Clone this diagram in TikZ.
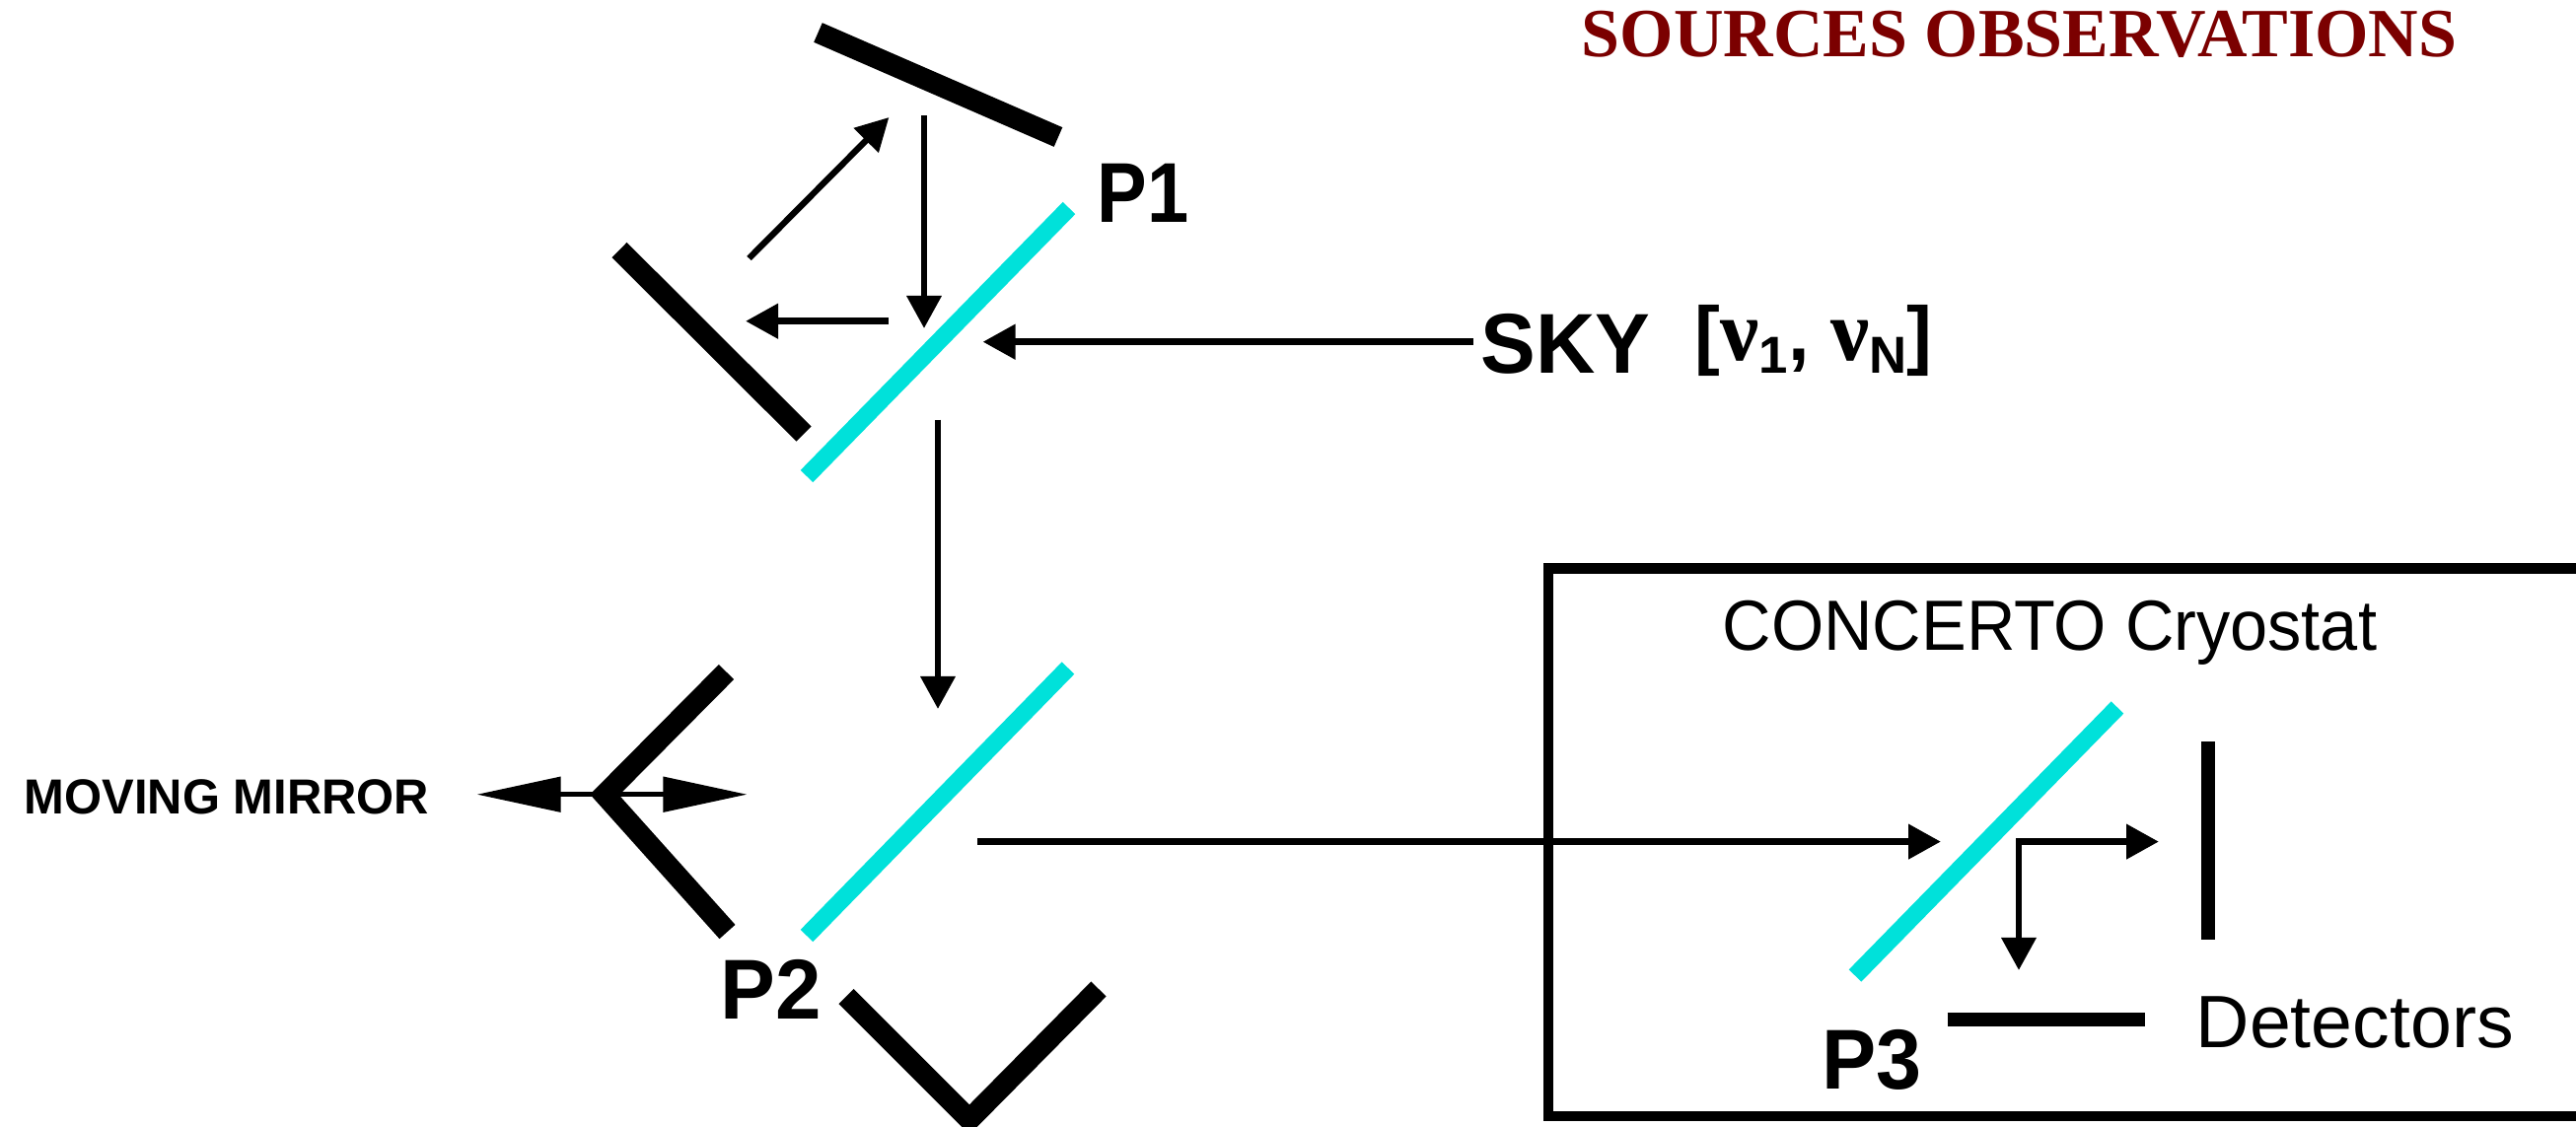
\documentclass[tikz,border=0pt]{standalone}
\usepackage{fontspec}
\setmainfont{Liberation Sans}
\newfontfamily\serfont{Liberation Serif}
\usepackage{graphicx}
\usepackage{tikz}
\usetikzlibrary{positioning,arrows.meta,calc}
\definecolor{splitcyan}{HTML}{00E1DA}
\definecolor{titlered}{HTML}{7B0000}
\newcommand{\fs}[1]{\fontsize{#1}{#1}\selectfont}
\newcommand{\nub}{{\serfont\bfseries\fs{25}ν}}
\newcommand{\lowsub}[1]{\raisebox{-1.3mm}{\fs{15}\bfseries #1}}
\newcommand{\squeeze}[2]{\scalebox{#1}[1]{#2}}
\tikzset{
  mirror/.style={line width=6.1pt,line join=miter},
  splitter/.style={line width=5pt,splitcyan},
  detector/.style={line width=4.1pt},
  beam/.style={line width=2.1pt,-{Triangle[length=3.3mm,width=3.4mm]}},
  longtip/.style={line width=1.4pt,-{Triangle[length=8.5mm,width=3.5mm]}},
  lab/.style={inner sep=0pt,anchor=base west},
  bigbold/.style={lab,font=\fs{24.5}\bfseries},
  plain/.style={lab,font=\fs{20.5}},
}
\begin{document}
\begin{tikzpicture}[x=0.01cm,y=-0.01cm]
\clip (0,0) rectangle (2612,1142);
% labels
\node[lab,text=titlered,font=\serfont\bfseries\fs{19.9}] (title) at (1603,57) {SOURCES OBSERVATIONS};
\node[bigbold] (p1) at (1112,225) {\squeeze{.88}{P1}};
\node[bigbold] (p2) at (730,1033) {\squeeze{.97}{P2}};
\node[bigbold] (p3) at (1847,1104) {\squeeze{.96}{P3}};
\node[bigbold] (sky) at (1501,378) {\squeeze{.97}{SKY}};
\node[lab,font=\fs{22}\bfseries] (band) at (1718,365) {[\nub\lowsub{1}, \nub\lowsub{N}]};
\node[lab,font=\fs{14.2}\bfseries] (mover) at (24,825) {\squeeze{.98}{MOVING MIRROR}};
\node[plain] (cryo) at (1746,659) {\squeeze{.95}{CONCERTO Cryostat}};
\node[lab,font=\fs{21.4}] (det) at (2226,1062) {Detectors};
% cryostat wall runs off the right edge
\draw[line width=3pt] (2630,576.5) -- (1570,576.5) -- (1570,1132) -- (2630,1132);
% flat mirrors around P1
\draw[mirror] (829.5,33) -- (1073,139);
\draw[mirror] (628,253.5) -- (815,440);
% roof mirrors around P2
\draw[mirror] (736.5,681.5) -- (613,806) -- (737.5,945);
\draw[mirror] (858,1010.5) -- (983,1135.5) -- (1114,1003);
% polarizers
\draw[splitter] (1084,211) -- (818,483);
\draw[splitter] (1083,677.5) -- (818,949);
\draw[splitter] (2147,717.5) -- (1881,989.5);
% detector arrays
\draw[detector] (2239,752) -- (2239,953);
\draw[detector] (1974.5,1034) -- (2174.5,1034);
% beams
\coordinate (skytip) at (996.5,346.7);
\coordinate (movetip) at (483.6,805.7);
\coordinate (movetop) at (757.5,805.7);
\coordinate (hit3) at (2047,853.6);
\draw[beam] ([xshift=-2pt]sky.west |- skytip) -- (skytip);
\draw[beam,line width=1.8pt] (759.5,262) -- (901.4,119);
\draw[beam,line width=1.9pt] (937,117) -- (937,333);
\draw[beam] (901,325.7) -- (756,325.7);
\draw[beam,line width=1.9pt] (951,425.7) -- (951,719);
\draw[beam] (991,853.6) -- (1968,853.6);
\draw[beam] (2044,853.6) -- (2189,853.6);
\draw[beam,line width=1.9pt] (hit3) -- (2047,984);
\draw[longtip] (620,805.7) -- (movetip);
\draw[longtip] (620,805.7) -- (movetop);
\end{tikzpicture}
\end{document}
